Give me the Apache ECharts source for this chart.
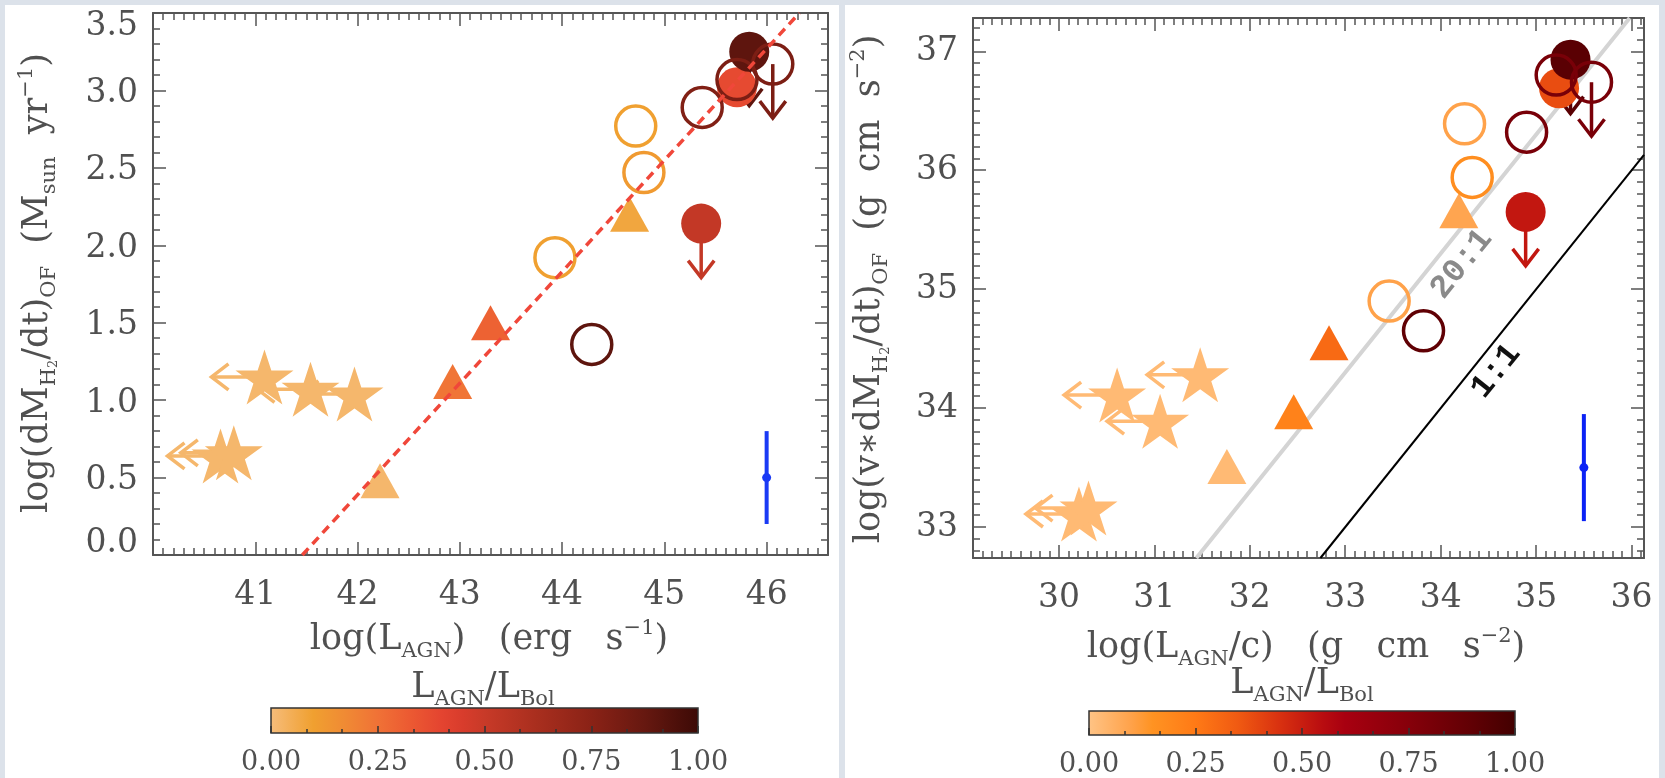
<!DOCTYPE html>
<html>
<head>
<meta charset="utf-8">
<script src="https://cdn.jsdelivr.net/npm/echarts@6/dist/echarts.min.js"></script>
<style>
html, body { margin: 0; padding: 0; background: #dce2ea; overflow: hidden; }
.panel { position: absolute; background: #fff; }
#container { position: absolute; left: 0; top: 0; width: 1665px; height: 778px; }
</style>
</head>
<body>
<div class="panel" style="left:5px;top:5px;width:834px;height:773px"></div>
<div class="panel" style="left:845px;top:5px;width:814px;height:773px"></div>
<div id="container"></div>
<script>
// ---- left panel: log(L_AGN) vs log(dM/dt) ----
var xRangeL = [40, 46.6];
var yRangeL = [0, 3.5];
var starL_x = [41.09, 41.54, 41.97, 40.66, 40.79];
var starL_y = [1.15, 1.07, 1.04, 0.64, 0.66];
var starL_f = [0.02, 0.02, 0.02, 0.02, 0.02];
var triL_x = [44.66, 43.30, 42.93, 42.22];
var triL_y = [2.20, 1.50, 1.12, 0.48];
var triL_f = [0.08, 0.30, 0.24, 0.02];
var dotL_x = [45.71, 45.83, 45.36];
var dotL_y = [3.02, 3.25, 2.14];
var dotL_f = [0.38, 0.90, 0.52];
var dotL_lim = [0, 1, 1];
var ringL_x = [46.06, 45.71, 45.37, 44.72, 44.80, 43.93, 44.29];
var ringL_y = [3.17, 3.07, 2.89, 2.77, 2.47, 1.92, 1.36];
var ringL_f = [0.80, 0.80, 0.78, 0.10, 0.12, 0.10, 0.90];
var ringL_lim = [1, 0, 0, 0, 0, 0, 0];
var fitL_x = [41.46, 46.32];
var fitL_y = [0, 3.5];
var errL = [46.0, 0.5, 0.3];

// ---- right panel: log(L_AGN/c) vs log(v*dM/dt) ----
var xRangeR = [29.1, 36.13];
var yRangeR = [32.74, 37.28];
var starR_x = [30.61, 31.06, 31.48, 30.21, 30.31];
var starR_y = [34.11, 33.89, 34.28, 33.11, 33.16];
var starR_f = [0.03, 0.03, 0.03, 0.03, 0.03];
var triR_x = [34.19, 32.83, 32.46, 31.76];
var triR_y = [35.66, 34.55, 33.97, 33.51];
var triR_f = [0.09, 0.30, 0.22, 0.03];
var dotR_x = [35.24, 35.36, 34.89];
var dotR_y = [36.69, 36.93, 35.65];
var dotR_f = [0.38, 0.92, 0.52];
var dotR_lim = [0, 1, 1];
var ringR_x = [35.58, 35.21, 34.90, 34.25, 34.33, 33.46, 33.82];
var ringR_y = [36.74, 36.80, 36.32, 36.39, 35.94, 34.90, 34.65];
var ringR_f = [0.80, 0.80, 0.80, 0.10, 0.17, 0.10, 0.90];
var ringR_lim = [1, 0, 0, 0, 0, 0, 0];
var line20_x = [31.44, 35.98];
var line20_y = [32.74, 37.28];
var line11_x = [32.74, 36.13];
var line11_y = [32.74, 36.13];
var ratioText = ['20:1', '1:1'];
var ratioText_x = [34.22, 34.58];
var ratioText_y = [35.21, 34.31];
var errR = [35.50, 33.50, 0.45];

var cbarRange = [0, 1];

// colour scales of the two colour bars
var cmapL = [[0, '#f6bd7c'], [0.05, '#f3ae55'], [0.10, '#f0a030'], [0.175, '#f08a34'], [0.25, '#f07236'],
    [0.325, '#ec5a32'], [0.40, '#e44430'], [0.45, '#d83c2c'], [0.50, '#c83a28'], [0.625, '#a82e1e'],
    [0.75, '#8a2216'], [0.875, '#661810'], [1, '#3c0a06']];
var cmapR = [[0, '#ffc486'], [0.10, '#ffa24a'], [0.15, '#ff9322'], [0.25, '#ff7a16'], [0.35, '#f05a12'],
    [0.45, '#d83010'], [0.55, '#b80c10'], [0.60, '#a80010'], [0.75, '#86000a'], [0.90, '#600004'], [1, '#420000']];

var FONT = 'DejaVu Serif';
var INK = '#505050';
var FRAME = '#555';
var STAR = 'path://M50 0L61.23 34.55L97.55 34.55L68.17 55.9L79.39 90.45L50 69.1L20.61 90.45L31.83 55.9L2.45 34.55L38.77 34.55Z';

function hexRgb(h) {
    return [parseInt(h.slice(1, 3), 16), parseInt(h.slice(3, 5), 16), parseInt(h.slice(5, 7), 16)];
}
function cmapColor(stops, t) {
    t = Math.max(0, Math.min(1, t));
    for (var i = 1; i < stops.length; i++) {
        if (t <= stops[i][0]) {
            var a = hexRgb(stops[i - 1][1]), b = hexRgb(stops[i][1]);
            var k = (t - stops[i - 1][0]) / (stops[i][0] - stops[i - 1][0]);
            return 'rgb(' + Math.round(a[0] + (b[0] - a[0]) * k) + ',' + Math.round(a[1] + (b[1] - a[1]) * k) + ',' + Math.round(a[2] + (b[2] - a[2]) * k) + ')';
        }
    }
    return stops[stops.length - 1][1];
}

function points(xs, ys, fs, cmap, hollow) {
    return xs.map(function (x, i) {
        var c = cmapColor(cmap, fs[i]);
        return {
            value: [x, ys[i]],
            itemStyle: hollow ? { color: 'rgba(0,0,0,0)', borderColor: c, borderWidth: 3.5, opacity: 1 } : { color: c, opacity: 1 }
        };
    });
}
function limits(xs, ys, fs, lim) {
    var out = [];
    for (var i = 0; i < xs.length; i++) {
        if (!lim || lim[i]) out.push([xs[i], ys[i], fs[i]]);
    }
    return out;
}

// upper-limit arrows (dir 'left' or 'down')
function arrowSeries(g, data, cmap, dir) {
    return {
        type: 'custom', xAxisIndex: g * 2, yAxisIndex: g * 2, silent: true, z: 5,
        data: data,
        renderItem: function (params, api) {
            var p = api.coord([api.value(0), api.value(1)]);
            var c = cmapColor(cmap, api.value(2));
            var L = dir === 'left' ? 53 : 54, a = 17, w = 13;
            var stem, head;
            if (dir === 'left') {
                stem = [[p[0], p[1]], [p[0] - L, p[1]]];
                head = [[p[0] - L + a, p[1] - w], [p[0] - L, p[1]], [p[0] - L + a, p[1] + w]];
            } else {
                stem = [[p[0], p[1]], [p[0], p[1] + L]];
                head = [[p[0] - w, p[1] + L - a], [p[0], p[1] + L], [p[0] + w, p[1] + L - a]];
            }
            return {
                type: 'group', children: [
                    { type: 'polyline', shape: { points: stem }, style: { stroke: c, lineWidth: 3.5, fill: 'none' } },
                    { type: 'polyline', shape: { points: head }, style: { stroke: c, lineWidth: 3.5, fill: 'none' } }
                ]
            };
        }
    };
}

function errSeries(g, e, color) {
    return {
        type: 'custom', xAxisIndex: g * 2, yAxisIndex: g * 2, silent: true, z: 3,
        data: [e],
        renderItem: function (params, api) {
            var x = api.value(0), y = api.value(1), d = api.value(2);
            var p = api.coord([x, y]), t = api.coord([x, y + d]), b = api.coord([x, y - d]);
            return {
                type: 'group', children: [
                    { type: 'line', shape: { x1: p[0], y1: t[1], x2: p[0], y2: b[1] }, style: { stroke: color, lineWidth: 4 } },
                    { type: 'circle', shape: { cx: p[0], cy: p[1], r: 4.5 }, style: { fill: color } }
                ]
            };
        }
    };
}

function scatter(g, data, symbol, size, z) {
    return {
        type: 'scatter', xAxisIndex: g * 2, yAxisIndex: g * 2, silent: true, z: z,
        symbol: symbol, symbolSize: size, data: data,
        itemStyle: { opacity: 1 },
        emphasis: { disabled: true }
    };
}

function cbarSeries(g, cmap) {
    return {
        type: 'custom', xAxisIndex: 4 + g, yAxisIndex: 4 + g, silent: true, z: 2,
        data: [[cbarRange[0], cbarRange[1]]],
        renderItem: function (params, api) {
            var a = api.coord([api.value(0), 0]), b = api.coord([api.value(1), 1]);
            return {
                type: 'rect',
                shape: { x: a[0], y: b[1], width: b[0] - a[0], height: a[1] - b[1] },
                style: {
                    fill: new echarts.graphic.LinearGradient(0, 0, 1, 0, cmap.map(function (s) { return { offset: s[0], color: s[1] }; })),
                    stroke: '#333', lineWidth: 1.5
                }
            };
        }
    };
}

var tickFont = { fontFamily: FONT, fontSize: 33, color: INK };

function valAxis(g, pos, range, interval, split, minorSplit, labels, fmt, hideEnds, rich) {
    var ax = {
        type: 'value', gridIndex: g, position: pos, min: range[0], max: range[1],
        axisLine: { show: true, onZero: false, lineStyle: { color: FRAME, width: 2 } },
        axisTick: { show: true, inside: true, length: 13, lineStyle: { color: FRAME, width: 1.5 } },
        minorTick: { show: true, splitNumber: minorSplit, length: 7, lineStyle: { color: FRAME, width: 1.5 } },
        splitLine: { show: false },
        minorSplitLine: { show: false },
        axisLabel: {
            show: labels, fontFamily: FONT, fontSize: 33, color: INK,
            margin: (pos === 'bottom') ? 24 : 15,
            showMinLabel: !hideEnds, showMaxLabel: !hideEnds,
            formatter: fmt, rich: rich
        }
    };
    if (interval) ax.interval = interval; else ax.splitNumber = split;
    return ax;
}
function cbarAxis(g) {
    return {
        type: 'value', gridIndex: g, position: 'bottom', min: cbarRange[0], max: cbarRange[1], interval: 0.25, z: 10,
        axisLine: { show: false },
        axisTick: { show: true, inside: true, length: 7, lineStyle: { color: '#333', width: 1.5 } },
        minorTick: { show: true, splitNumber: 3, length: 4, lineStyle: { color: '#333', width: 1.5 } },
        splitLine: { show: false },
        axisLabel: {
            fontFamily: FONT, fontSize: 27, color: INK, margin: 16,
            formatter: function (v) { return v.toFixed(2); }
        }
    };
}

var intFmt = function (v) { return String(Math.round(v)); };
// left y labels: end labels are pulled inside the frame, as in the original
var yLeftFmt = function (v) {
    if (v >= yRangeL[1]) return '{hi|' + v.toFixed(1) + '}';
    if (v <= yRangeL[0]) return '{lo|' + v.toFixed(1) + '}';
    return '{n|' + v.toFixed(1) + '}';
};
var yLeftRich = {
    hi: { fontFamily: FONT, fontSize: 33, color: INK, padding: [26, 0, 0, 0] },
    lo: { fontFamily: FONT, fontSize: 33, color: INK, padding: [0, 0, 24, 0] },
    n: { fontFamily: FONT, fontSize: 33, color: INK, padding: [6, 0, 0, 0] }
};

var rich = {
    m: { fontFamily: FONT, fontSize: 35, fill: INK, lineHeight: 44 },
    b: { fontFamily: FONT, fontSize: 21, fill: INK, lineHeight: 20, verticalAlign: 'bottom' },
    t: { fontFamily: FONT, fontSize: 13, fill: INK, lineHeight: 15, verticalAlign: 'bottom' },
    p: { fontFamily: FONT, fontSize: 21, fill: INK, lineHeight: 20, verticalAlign: 'top' }
};
function title(text, x, y, rot) {
    return {
        type: 'text', x: x, y: y, rotation: rot || 0, silent: true,
        style: { text: text, rich: rich, align: 'center', verticalAlign: 'middle' }
    };
}

var myChart = echarts.init(document.getElementById('container'));
var option = {
    animation: false,
    backgroundColor: 'transparent',
    grid: [
        { left: 153, top: 13, width: 675, height: 542, outerBoundsMode: 'none' },
        { left: 973, top: 18, width: 671, height: 540, outerBoundsMode: 'none' },
        { left: 271, top: 708, width: 427, height: 25, outerBoundsMode: 'none' },
        { left: 1089, top: 711, width: 426, height: 24, outerBoundsMode: 'none' }
    ],
    xAxis: [
        valAxis(0, 'bottom', xRangeL, 1, null, 10, true, intFmt, true),
        valAxis(0, 'top', xRangeL, 1, null, 10, false),
        valAxis(1, 'bottom', xRangeR, null, 7, 10, true, intFmt, true),
        valAxis(1, 'top', xRangeR, null, 7, 10, false),
        cbarAxis(2),
        cbarAxis(3)
    ],
    yAxis: [
        valAxis(0, 'left', yRangeL, 0.5, null, 5, true, yLeftFmt, false, yLeftRich),
        valAxis(0, 'right', yRangeL, 0.5, null, 5, false),
        valAxis(1, 'left', yRangeR, null, 5, 10, true, intFmt, true),
        valAxis(1, 'right', yRangeR, null, 5, 10, false),
        { type: 'value', gridIndex: 2, show: false, min: 0, max: 1 },
        { type: 'value', gridIndex: 3, show: false, min: 0, max: 1 }
    ],
    graphic: [
        title('{m|log(dM}{b|H}{t|2}{m|/dt)}{b|OF}{m|  (M}{b|sun}{m|  yr}{p|−1}{m|)}', 38, 283, Math.PI / 2),
        title('{m|log(L}{b|AGN}{m|)   (erg   s}{p|−1}{m|)}', 489, 640),
        title('{m|L}{b|AGN}{m|/L}{b|Bol}', 483, 688),
        title('{m|log(v∗dM}{b|H}{t|2}{m|/dt)}{b|OF}{m|  (g  cm  s}{p|−2}{m|)}', 870, 289, Math.PI / 2),
        title('{m|log(L}{b|AGN}{m|/c)   (g   cm   s}{p|−2}{m|)}', 1306, 648),
        title('{m|L}{b|AGN}{m|/L}{b|Bol}', 1302, 684)
    ],
    series: [
        // left panel
        errSeries(0, errL, '#1a3af5'),
        arrowSeries(0, limits(starL_x, starL_y, starL_f), cmapL, 'left'),
        scatter(0, points(starL_x, starL_y, starL_f, cmapL, false), STAR, [58, 55], 6),
        scatter(0, points(triL_x, triL_y, triL_f, cmapL, false), 'triangle', [39, 35], 6),
        scatter(0, points(dotL_x, dotL_y, dotL_f, cmapL, false), 'circle', 40, 7),
        scatter(0, points(ringL_x, ringL_y, ringL_f, cmapL, true), 'circle', 40, 8),
        arrowSeries(0, limits(dotL_x, dotL_y, dotL_f, dotL_lim).concat(limits(ringL_x, ringL_y, ringL_f, ringL_lim)), cmapL, 'down'),
        {
            type: 'line', xAxisIndex: 0, yAxisIndex: 0, silent: true, z: 9, symbol: 'none',
            data: fitL_x.map(function (x, i) { return [x, fitL_y[i]]; }),
            lineStyle: { color: '#f0473a', width: 3.5, type: [9, 6] }
        },
        // right panel
        {
            type: 'line', xAxisIndex: 2, yAxisIndex: 2, silent: true, z: 2, symbol: 'none', clip: true,
            data: line20_x.map(function (x, i) { return [x, line20_y[i]]; }),
            lineStyle: { color: '#d4d4d4', width: 4 }
        },
        {
            type: 'line', xAxisIndex: 2, yAxisIndex: 2, silent: true, z: 2, symbol: 'none', clip: true,
            data: line11_x.map(function (x, i) { return [x, line11_y[i]]; }),
            lineStyle: { color: '#000', width: 2 }
        },
        {
            type: 'custom', xAxisIndex: 2, yAxisIndex: 2, silent: true, z: 3,
            data: ratioText.map(function (t, i) { return [ratioText_x[i], ratioText_y[i], i]; }),
            renderItem: function (params, api) {
                var x = api.value(0), y = api.value(1);
                var p = api.coord([x, y]), q = api.coord([x + 1, y + 1]);
                var ang = Math.atan2(p[1] - q[1], q[0] - p[0]);
                var i = api.value(2);
                return {
                    type: 'text', x: p[0], y: p[1], rotation: ang,
                    style: {
                        text: ratioText[i], fill: i === 0 ? '#8a8a8a' : '#111',
                        fontFamily: 'Liberation Mono', fontWeight: 'bold', fontSize: 33,
                        align: 'center', verticalAlign: 'middle'
                    }
                };
            }
        },
        errSeries(1, errR, '#0b22f5'),
        arrowSeries(1, limits(starR_x, starR_y, starR_f), cmapR, 'left'),
        scatter(1, points(starR_x, starR_y, starR_f, cmapR, false), STAR, [58, 55], 6),
        scatter(1, points(triR_x, triR_y, triR_f, cmapR, false), 'triangle', [39, 35], 6),
        scatter(1, points(dotR_x, dotR_y, dotR_f, cmapR, false), 'circle', 40, 7),
        scatter(1, points(ringR_x, ringR_y, ringR_f, cmapR, true), 'circle', 40, 8),
        arrowSeries(1, limits(dotR_x, dotR_y, dotR_f, dotR_lim).concat(limits(ringR_x, ringR_y, ringR_f, ringR_lim)), cmapR, 'down'),
        // colour bars
        cbarSeries(0, cmapL),
        cbarSeries(1, cmapR)
    ]
};
myChart.setOption(option);
</script>
</body>
</html>
